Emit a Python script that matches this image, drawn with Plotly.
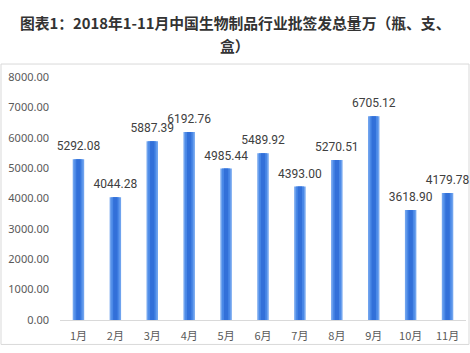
import plotly.graph_objects as go

title_lines = ["图表1：2018年1-11月中国生物制品行业批签发总量万（瓶、支、", "盒）"]
months = ["1月", "2月", "3月", "4月", "5月", "6月", "7月", "8月", "9月", "10月", "11月"]
values = [5292.08, 4044.28, 5887.39, 6192.76, 4985.44, 5489.92, 4393.00, 5270.51, 6705.12, 3618.90, 4179.78]
y_ticks = [0, 1000, 2000, 3000, 4000, 5000, 6000, 7000, 8000]

W, H = 470, 353
L, R, T, B = 60, 4, 77, 32.5
pw, ph = W - L - R, H - T - B

fig = go.Figure()
fig.add_trace(go.Bar(x=months, y=values, width=0.31, marker=dict(color="#6FA3EE", line=dict(width=0)),
                     hoverinfo="skip"))
fig.add_trace(go.Bar(x=months, y=values, width=0.22, marker=dict(color="#4A88E6", line=dict(width=0)),
                     hoverinfo="skip"))
fig.add_trace(go.Bar(x=months, y=values, width=0.12, marker=dict(color="#3270D9", line=dict(width=0)),
                     hoverinfo="skip"))
fig.add_trace(go.Scatter(x=months, y=values, mode="markers+text", text=[f"{v:.2f}" for v in values],
                         textposition="top center", cliponaxis=False,
                         marker=dict(size=8, color="rgba(0,0,0,0)"),
                         textfont=dict(family="Roboto", size=12, color="#404040"),
                         hoverinfo="skip"))

def px2paper_x(p):
    return (p - L) / pw

def px2paper_y(p):
    return (H - B - p) / ph

fig.add_shape(type="rect", xref="paper", yref="paper",
              x0=px2paper_x(1), x1=px2paper_x(469), y0=px2paper_y(345), y1=px2paper_y(64),
              line=dict(color="#D9D9D9", width=1), fillcolor="rgba(0,0,0,0)", layer="below")

for line, ypx in zip(title_lines, [22, 45]):
    fig.add_annotation(text=line, xref="paper", yref="paper", x=px2paper_x(W / 2), y=px2paper_y(ypx),
                       xanchor="center", yanchor="middle", showarrow=False,
                       font=dict(family="Noto Sans CJK SC", size=14.8, color="#333333", weight="bold"))

fig.update_layout(
    width=W, height=H,
    margin=dict(l=L, r=R, t=T, b=B),
    paper_bgcolor="white", plot_bgcolor="white",
    barmode="overlay",
    showlegend=False,
    font=dict(family="Noto Sans, Noto Sans CJK SC"),
)
fig.update_xaxes(range=[-0.5, 10.5], showgrid=False, showline=True, linecolor="#D9D9D9", linewidth=1,
                 ticks="", tickfont=dict(family="Noto Sans CJK SC", size=11, color="#595959"),
                 ticklabelstandoff=6)
fig.update_yaxes(range=[0, 8000], showgrid=False, showline=False, zeroline=False, ticks="",
                 tickvals=y_ticks, ticktext=[f"{v:.2f}" for v in y_ticks],
                 tickfont=dict(family="Noto Sans", size=11, color="#595959"), ticklabelstandoff=10)

fig.write_html("out.html")
